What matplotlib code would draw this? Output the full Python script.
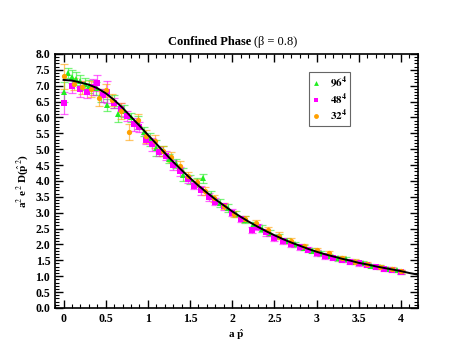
import numpy as np
import matplotlib
matplotlib.use('Agg')
import matplotlib.pyplot as plt
from matplotlib.lines import Line2D
from matplotlib.ticker import MultipleLocator, FormatStrFormatter

plt.rcParams['font.family'] = ['Liberation Serif', 'DejaVu Serif']
plt.rcParams['mathtext.fontset'] = 'stix'

# fit curve
fit_x = [0.0, 0.1, 0.2, 0.3, 0.4, 0.5, 0.6, 0.7, 0.8, 0.9, 1.0, 1.1, 1.2, 1.3, 1.4,
         1.5, 1.6, 1.7, 1.8, 1.9, 2.0, 2.1, 2.2, 2.3, 2.4, 2.5, 2.6, 2.7, 2.8, 2.9,
         3.0, 3.1, 3.2, 3.3, 3.4, 3.5, 3.6, 3.7, 3.8, 3.9, 4.0, 4.1, 4.2]
fit_y = [7.18, 7.16, 7.10, 7.03, 6.92, 6.76, 6.55, 6.30, 6.02, 5.74, 5.45, 5.17, 4.88, 4.60, 4.34,
         4.09, 3.85, 3.63, 3.42, 3.23, 3.04, 2.87, 2.71, 2.56, 2.42, 2.29, 2.17, 2.06, 1.96, 1.86,
         1.77, 1.69, 1.62, 1.55, 1.49, 1.42, 1.37, 1.31, 1.26, 1.21, 1.16, 1.10, 1.05]

# 96^4
g_x = [0.0, 0.05, 0.1, 0.15, 0.2, 0.25, 0.3, 0.38, 0.45, 0.52, 0.6, 0.65, 0.72, 0.8, 0.88,
       0.95, 1.02, 1.1, 1.18, 1.25, 1.33, 1.42, 1.5, 1.58, 1.65, 1.75, 1.85, 1.95, 2.05, 2.15,
       2.25, 2.35, 2.45, 2.55, 2.65, 2.75, 2.85, 2.95, 3.05, 3.15, 3.25, 3.35, 3.45, 3.55, 3.65,
       3.75, 3.85, 3.95, 4.0]
g_y = [6.80, 7.39, 7.28, 7.22, 7.15, 7.05, 6.98, 6.92, 6.70, 6.39, 6.50, 6.10, 6.20, 6.00, 5.85,
       5.55, 5.30, 5.05, 4.95, 4.70, 4.55, 4.20, 4.05, 3.95, 4.08, 3.55, 3.30, 3.15, 2.95, 2.78,
       2.62, 2.50, 2.35, 2.25, 2.12, 2.00, 1.90, 1.80, 1.72, 1.64, 1.56, 1.53, 1.44, 1.41, 1.33,
       1.30, 1.22, 1.18, 1.14]
g_e = [0.30, 0.15, 0.20, 0.20, 0.18, 0.20, 0.20, 0.20, 0.20, 0.20, 0.20, 0.25, 0.20, 0.15, 0.20,
       0.15, 0.20, 0.25, 0.15, 0.15, 0.15, 0.20, 0.15, 0.15, 0.15, 0.12, 0.12, 0.12, 0.10, 0.10,
       0.10, 0.10, 0.10, 0.08, 0.08, 0.08, 0.08, 0.08, 0.07, 0.07, 0.07, 0.07, 0.06, 0.06, 0.06,
       0.06, 0.06, 0.06, 0.06]

# 48^4
m_x = [0.0, 0.1, 0.2, 0.28, 0.35, 0.4, 0.47, 0.52, 0.6, 0.68, 0.75, 0.83, 0.9, 0.98, 1.05,
       1.13, 1.22, 1.3, 1.38, 1.47, 1.55, 1.63, 1.72, 1.8, 1.9, 2.0, 2.1, 2.23, 2.3, 2.4,
       2.5, 2.6, 2.7, 2.8, 2.9, 3.0, 3.1, 3.2, 3.3, 3.4, 3.5, 3.6, 3.7, 3.8, 3.9, 4.0]
m_y = [6.45, 6.98, 6.90, 6.80, 6.95, 7.08, 6.70, 6.81, 6.45, 6.25, 6.05, 5.78, 5.70, 5.30, 5.15,
       4.92, 4.80, 4.50, 4.30, 4.05, 3.85, 3.70, 3.50, 3.35, 3.20, 3.00, 2.80, 2.46, 2.55, 2.38,
       2.20, 2.10, 2.00, 1.92, 1.84, 1.73, 1.62, 1.58, 1.52, 1.46, 1.40, 1.34, 1.30, 1.22, 1.20, 1.12]
m_e = [0.35, 0.20, 0.25, 0.20, 0.25, 0.25, 0.20, 0.35, 0.15, 0.20, 0.15, 0.20, 0.15, 0.15, 0.20,
       0.15, 0.15, 0.15, 0.15, 0.12, 0.12, 0.15, 0.12, 0.10, 0.12, 0.10, 0.10, 0.10, 0.10, 0.10,
       0.10, 0.10, 0.08, 0.10, 0.08, 0.08, 0.08, 0.07, 0.07, 0.07, 0.07, 0.06, 0.06, 0.06, 0.06, 0.06]

# 32^4
o_x = [0.0, 0.12, 0.22, 0.32, 0.42, 0.5, 0.58, 0.68, 0.78, 0.88, 0.98, 1.08, 1.18, 1.28, 1.38,
       1.48, 1.58, 1.68, 1.78, 1.9, 2.02, 2.15, 2.28, 2.42, 2.55, 2.7, 2.85, 3.0, 3.15, 3.3,
       3.45, 3.6, 3.75, 3.9, 4.0]
o_y = [7.29, 7.05, 6.95, 6.90, 6.62, 6.85, 6.55, 6.20, 5.55, 5.92, 5.40, 5.25, 4.95, 4.75, 4.48,
       4.15, 3.95, 3.68, 3.45, 3.20, 2.95, 2.80, 2.68, 2.45, 2.28, 2.10, 1.94, 1.82, 1.72, 1.57,
       1.46, 1.38, 1.30, 1.22, 1.15]
o_e = [0.40, 0.20, 0.20, 0.25, 0.25, 0.20, 0.20, 0.25, 0.25, 0.20, 0.20, 0.20, 0.15, 0.15, 0.15,
       0.12, 0.12, 0.12, 0.10, 0.10, 0.10, 0.10, 0.10, 0.10, 0.10, 0.10, 0.08, 0.08, 0.08, 0.08,
       0.07, 0.07, 0.06, 0.06, 0.06]

series = [
    ('$\\mathbf{96^4}$', g_x, g_y, g_e, '#22ee22', '^'),
    ('$\\mathbf{48^4}$', m_x, m_y, m_e, '#ff00ff', 's'),
    ('$\\mathbf{32^4}$', o_x, o_y, o_e, '#ffa000', 'o'),
]

fig = plt.figure(figsize=(4.71, 3.64), dpi=100)
ax = fig.add_axes([0.117, 0.154, 0.770, 0.698])

handles = []
for lab, x, y, e, col, mk in series:
    ax.errorbar(x, y, yerr=e, fmt='none', ecolor=col, alpha=0.6, elinewidth=0.9,
                capsize=3, capthick=0.9, zorder=2)
    ax.plot(x, y, linestyle='none', marker=mk, color=col, markersize=3.8,
            markeredgewidth=0, zorder=3)
    handles.append(Line2D([], [], linestyle='none', marker=mk, color=col,
                          markersize=3.5, markeredgewidth=0, label=lab))

ax.plot(fit_x, fit_y, color='black', linewidth=1.4, zorder=4)

ax.set_xlim(-0.1, 4.2)
ax.set_ylim(0, 8)
ax.xaxis.set_major_locator(MultipleLocator(0.5))
ax.xaxis.set_minor_locator(MultipleLocator(0.1))
ax.yaxis.set_major_locator(MultipleLocator(0.5))
ax.yaxis.set_minor_locator(MultipleLocator(0.1))
ax.yaxis.set_major_formatter(FormatStrFormatter('%.1f'))
ax.xaxis.set_major_formatter(plt.FuncFormatter(lambda v, p: f'{v:g}'))
ax.tick_params(which='both', direction='in', top=True, right=True, labelsize=8.5)
ax.tick_params(which='major', length=6, width=1)
ax.tick_params(which='minor', length=3, width=0.8)
for t in ax.get_xticklabels() + ax.get_yticklabels():
    t.set_fontweight('bold')
for s in ax.spines.values():
    s.set_linewidth(1.2)

ax.set_xlabel('a $\\hat{\\mathbf{p}}$', fontsize=8, fontweight='bold', labelpad=2)
ax.set_ylabel('a$^2$ e$^2$ D($\\hat{\\mathbf{p}}^{\\,2}$)', fontsize=8, fontweight='bold', labelpad=3)

fig.text(251 / 471, 1 - 42 / 364, 'Confined Phase', ha='right', va='center',
         fontsize=9, fontweight='bold')
fig.text(254 / 471, 1 - 42 / 364, '(\u03b2 = 0.8)', ha='left', va='center', fontsize=9)

leg = ax.legend(handles=handles, loc='upper left', bbox_to_anchor=(0.70, 0.93),
                borderaxespad=0, fancybox=False, edgecolor='#666666', fontsize=8,
                handlelength=0.6, handletextpad=1.0, borderpad=0.3, labelspacing=0.12,
                framealpha=1)
leg.get_frame().set_linewidth(0.8)

fig.savefig('out.png', dpi=100)
